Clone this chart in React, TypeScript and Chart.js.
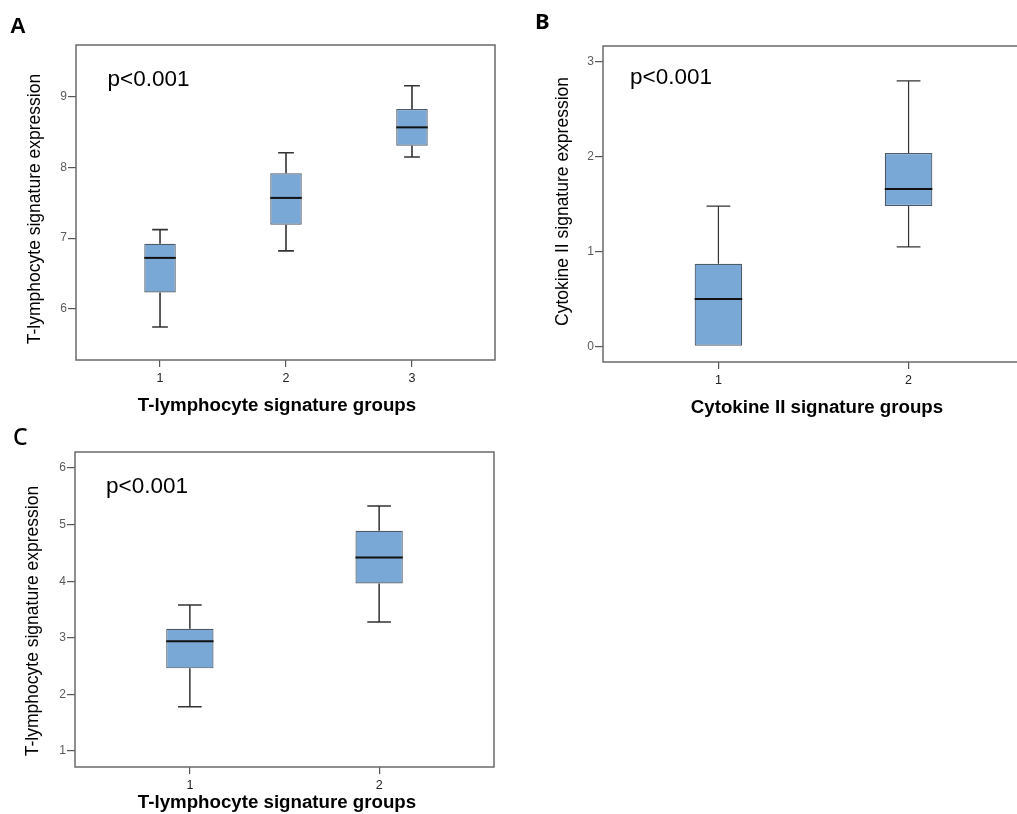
import React, { useEffect, useRef } from "react";
import { Chart, registerables } from "chart.js";

Chart.register(...registerables);

const FONT = "'Liberation Sans', Arial, Helvetica, sans-serif";

// ---------- Panel A data ----------
const aGroups = [1, 2, 3];
const aMin = [5.74, 6.82, 8.15];
const aQ1 = [6.23, 7.19, 8.31];
const aMedian = [6.72, 7.57, 8.57];
const aQ3 = [6.92, 7.92, 8.83];
const aMax = [7.12, 8.21, 9.16];
const aYTicks = [6, 7, 8, 9];
const aXTitle = "T-lymphocyte signature groups";
const aYTitle = "T-lymphocyte signature expression";

// ---------- Panel B data ----------
const bGroups = [1, 2];
const bMin = [0, 1.05];
const bQ1 = [0, 1.48];
const bMedian = [0.5, 1.66];
const bQ3 = [0.87, 2.04];
const bMax = [1.48, 2.8];
const bYTicks = [0, 1, 2, 3];
const bXTitle = "Cytokine II signature groups";
const bYTitle = "Cytokine II signature expression";

// ---------- Panel C data ----------
const cGroups = [1, 2];
const cMin = [1.78, 3.28];
const cQ1 = [2.46, 3.96];
const cMedian = [2.94, 4.42];
const cQ3 = [3.16, 4.89];
const cMax = [3.58, 5.33];
const cYTicks = [1, 2, 3, 4, 5, 6];
const cXTitle = "T-lymphocyte signature groups";
const cYTitle = "T-lymphocyte signature expression";

const pText = "p<0.001";

type PanelCfg = {
  letter: string;
  letterFont: string;
  letterPos: [number, number];
  groups: number[];
  min: number[];
  q1: number[];
  median: number[];
  q3: number[];
  max: number[];
  yTicks: number[];
  xRange: [number, number];
  yRange: [number, number];
  xTitle: string;
  yTitle: string;
  canvasLeft: number;
  canvasTop: number;
  width: number;
  height: number;
  yAxisW: number;
  padTop: number;
  padRight: number;
  xAxisH: number;
  yTitlePos: [number, number];
  xTitlePos: [number, number];
  pPos: [number, number];
  whiskerW: number;
};

const panels: PanelCfg[] = [
  {
    letter: "A",
    letterFont: `bold 22px ${FONT}`,
    letterPos: [10, 32.5],
    groups: aGroups,
    min: aMin,
    q1: aQ1,
    median: aMedian,
    q3: aQ3,
    max: aMax,
    yTicks: aYTicks,
    xRange: [0.333, 3.659],
    yRange: [5.273, 9.737],
    xTitle: aXTitle,
    yTitle: aYTitle,
    canvasLeft: 0,
    canvasTop: 0,
    width: 510,
    height: 420,
    yAxisW: 76,
    padTop: 45,
    padRight: 15,
    xAxisH: 60,
    yTitlePos: [39.5, 209],
    xTitlePos: [277, 410.5],
    pPos: [107.5, 86],
    whiskerW: 1.6,
  },
  {
    letter: "B",
    letterFont: `bold 22px 'Noto Sans', 'Open Sans', sans-serif`,
    letterPos: [15, 29],
    groups: bGroups,
    min: bMin,
    q1: bQ1,
    median: bMedian,
    q3: bQ3,
    max: bMax,
    yTicks: bYTicks,
    xRange: [0.393, 2.607],
    yRange: [-0.166, 3.169],
    xTitle: bXTitle,
    yTitle: bYTitle,
    canvasLeft: 520,
    canvasTop: 0,
    width: 520,
    height: 420,
    yAxisW: 83,
    padTop: 46,
    padRight: 16,
    xAxisH: 58,
    yTitlePos: [48, 201.5],
    xTitlePos: [297, 413],
    pPos: [110, 84],
    whiskerW: 1.2,
  },
  {
    letter: "C",
    letterFont: `500 23px 'Noto Sans', 'Open Sans', sans-serif`,
    letterPos: [13, 24.5],
    groups: cGroups,
    min: cMin,
    q1: cQ1,
    median: cMedian,
    q3: cQ3,
    max: cMax,
    yTicks: cYTicks,
    xRange: [0.393, 2.607],
    yRange: [0.717, 6.283],
    xTitle: cXTitle,
    yTitle: cYTitle,
    canvasLeft: 0,
    canvasTop: 420,
    width: 510,
    height: 394,
    yAxisW: 75,
    padTop: 32,
    padRight: 16,
    xAxisH: 47,
    yTitlePos: [38, 201],
    xTitlePos: [277, 388],
    pPos: [106, 73],
    whiskerW: 1.5,
  },
];

function makePlugin(cfg: PanelCfg) {
  return {
    id: "boxExtras" + cfg.letter,
    afterDatasetsDraw(chart: any) {
      const { ctx, chartArea } = chart;
      const xs = chart.scales.x;
      const ys = chart.scales.y;
      const meta = chart.getDatasetMeta(0);
      ctx.save();
      cfg.groups.forEach((g, i) => {
        const cx = xs.getPixelForValue(g);
        const bar = meta.data[i];
        const half = bar.width / 2;
        const capHalf = half / 2;
        const yMax = ys.getPixelForValue(cfg.max[i]);
        const yQ3 = ys.getPixelForValue(cfg.q3[i]);
        const yQ1 = ys.getPixelForValue(cfg.q1[i]);
        const yMin = ys.getPixelForValue(cfg.min[i]);
        const yMed = ys.getPixelForValue(cfg.median[i]);
        ctx.strokeStyle = "#333333";
        ctx.lineWidth = cfg.whiskerW;
        ctx.beginPath();
        if (yMax < yQ3 - 0.5) {
          ctx.moveTo(cx, yQ3);
          ctx.lineTo(cx, yMax);
          ctx.moveTo(cx - capHalf, yMax);
          ctx.lineTo(cx + capHalf, yMax);
        }
        if (yMin > yQ1 + 0.5) {
          ctx.moveTo(cx, yQ1);
          ctx.lineTo(cx, yMin);
          ctx.moveTo(cx - capHalf, yMin);
          ctx.lineTo(cx + capHalf, yMin);
        }
        ctx.stroke();
        ctx.strokeStyle = "#111111";
        ctx.lineWidth = 2;
        ctx.beginPath();
        ctx.moveTo(cx - half, yMed);
        ctx.lineTo(cx + half, yMed);
        ctx.stroke();
      });
      // frame
      ctx.strokeStyle = "#6a6a6a";
      ctx.lineWidth = 1.5;
      ctx.strokeRect(
        chartArea.left,
        chartArea.top,
        chartArea.right - chartArea.left,
        chartArea.bottom - chartArea.top
      );
      ctx.restore();
    },
    afterDraw(chart: any) {
      const { ctx } = chart;
      ctx.save();
      ctx.fillStyle = "#000";
      // panel letter
      ctx.font = cfg.letterFont;
      ctx.textAlign = "left";
      ctx.textBaseline = "alphabetic";
      ctx.fillText(cfg.letter, cfg.letterPos[0], cfg.letterPos[1]);
      // p value
      ctx.font = `22.5px ${FONT}`;
      ctx.fillText(pText, cfg.pPos[0], cfg.pPos[1]);
      // x title
      ctx.font = `bold 18.7px ${FONT}`;
      ctx.textAlign = "center";
      ctx.fillText(cfg.xTitle, cfg.xTitlePos[0], cfg.xTitlePos[1]);
      // y title
      ctx.font = `17.5px ${FONT}`;
      ctx.translate(cfg.yTitlePos[0], cfg.yTitlePos[1]);
      ctx.rotate(-Math.PI / 2);
      ctx.fillText(cfg.yTitle, 0, 0);
      ctx.restore();
    },
  };
}

function BoxPanel({ cfg }: { cfg: PanelCfg }) {
  const ref = useRef<HTMLCanvasElement>(null);
  useEffect(() => {
    const canvas = ref.current;
    if (!canvas) return;
    const chart = new Chart(canvas, {
      type: "bar",
      data: {
        datasets: [
          {
            data: cfg.groups.map((g, i) => ({ x: g, y: [cfg.q1[i], cfg.q3[i]] })) as any,
            backgroundColor: "#79a8d7",
            borderColor: "#4e5a66",
            borderWidth: 1.2,
            borderSkipped: false,
            barPercentage: 0.25,
            categoryPercentage: 1,
          } as any,
        ],
      },
      options: {
        responsive: false,
        animation: false,
        devicePixelRatio: 1,
        layout: { padding: { left: 0, top: cfg.padTop, right: cfg.padRight, bottom: 0 } },
        plugins: { legend: { display: false }, tooltip: { enabled: false } },
        scales: {
          x: {
            type: "linear",
            min: cfg.xRange[0],
            max: cfg.xRange[1],
            offset: false,
            grid: {
              offset: false,
              drawOnChartArea: false,
              drawTicks: true,
              tickLength: 7,
              color: "#555",
              lineWidth: 1.2,
            },
            border: { display: false },
            ticks: { font: { family: FONT, size: 12.5 }, color: "#222", padding: 4 },
            afterBuildTicks: (s: any) => {
              s.ticks = cfg.groups.map((v) => ({ value: v }));
            },
            afterFit: (s: any) => {
              s.height = cfg.xAxisH;
            },
          } as any,
          y: {
            type: "linear",
            min: cfg.yRange[0],
            max: cfg.yRange[1],
            grid: {
              drawOnChartArea: false,
              drawTicks: true,
              tickLength: 8,
              color: "#555",
              lineWidth: 1.2,
            },
            border: { display: false },
            ticks: { font: { family: FONT, size: 12 }, color: "#5a5a5a", padding: 1 },
            afterBuildTicks: (s: any) => {
              s.ticks = cfg.yTicks.map((v) => ({ value: v }));
            },
            afterFit: (s: any) => {
              s.width = cfg.yAxisW;
            },
          } as any,
        },
      },
      plugins: [makePlugin(cfg) as any],
    });
    return () => chart.destroy();
  }, [cfg]);
  return (
    <canvas
      ref={ref}
      width={cfg.width}
      height={cfg.height}
      style={{
        position: "absolute",
        left: cfg.canvasLeft,
        top: cfg.canvasTop,
        width: cfg.width,
        height: cfg.height,
      }}
    />
  );
}

export default function App() {
  return (
    <div
      style={{
        position: "absolute",
        left: 0,
        top: 0,
        width: 1017,
        height: 814,
        overflow: "hidden",
        background: "#fff",
      }}
    >
      {panels.map((p) => (
        <BoxPanel key={p.letter} cfg={p} />
      ))}
    </div>
  );
}
